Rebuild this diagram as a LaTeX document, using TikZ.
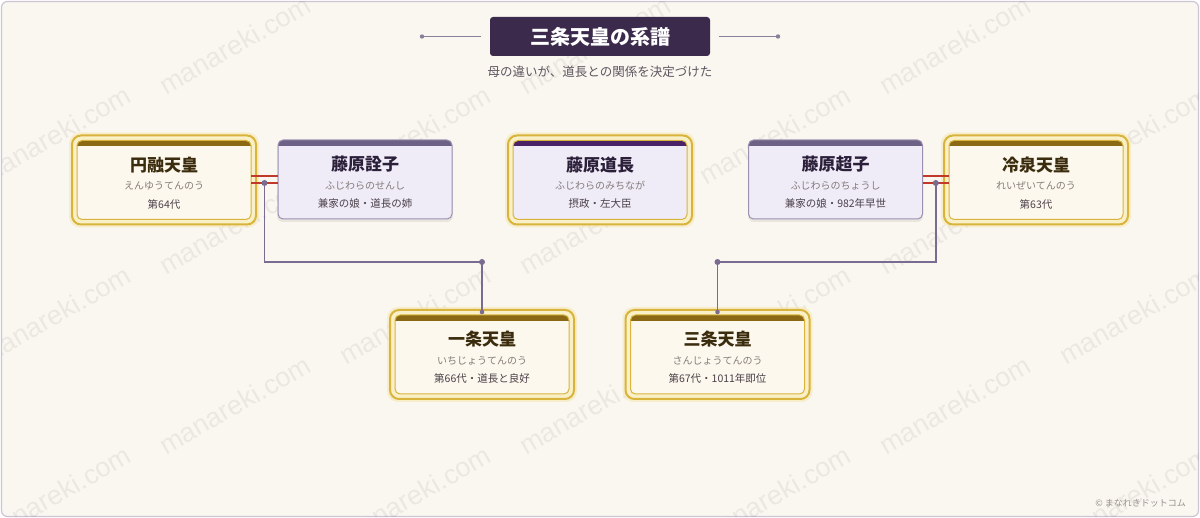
\documentclass[tikz,border=0pt]{standalone}
\usepackage{fontspec}
\setmainfont{Noto Sans CJK JP}
\newfontfamily\wmfont{Liberation Sans}
\usetikzlibrary{calc}
\definecolor{bg}{HTML}{FAF7F0}
\definecolor{frameC}{HTML}{CEC5D4}
\definecolor{titlebg}{HTML}{3C2A4C}
\definecolor{sideline}{HTML}{8A7F99}
\definecolor{subC}{HTML}{5E5560}
\definecolor{connC}{HTML}{7A6C91}
\definecolor{marrC}{HTML}{C0392B}
\definecolor{goldC}{HTML}{D8B43C}
\definecolor{paleGold}{HTML}{FAF0C8}
\definecolor{glowC}{HTML}{F5E3A0}
\definecolor{creamC}{HTML}{FCF8EE}
\definecolor{brownBar}{HTML}{8B6914}
\definecolor{lavC}{HTML}{EFEBF7}
\definecolor{lavBorder}{HTML}{9B90B0}
\definecolor{lavBar}{HTML}{6E6186}
\definecolor{purpBar}{HTML}{4B2266}
\definecolor{empText}{HTML}{3B2C0E}
\definecolor{fujiText}{HTML}{2B1F3A}
\definecolor{readC}{HTML}{857B7B}
\definecolor{descC}{HTML}{4A4048}
\definecolor{footC}{HTML}{9A9090}
\tikzset{
  goldouter/.style={draw=goldC, line width=2pt, fill=paleGold, rounded corners=9pt,
    minimum width=184pt, minimum height=89pt, inner sep=0pt, outer sep=0pt},
  innerb/.style={rounded corners=5pt, minimum width=174pt, minimum height=79pt,
    inner sep=0pt, outer sep=0pt},
  ttl/.style={font=\fontsize{17}{19}\selectfont\bfseries, inner sep=0pt},
  rdg/.style={font=\fontsize{10}{12}\selectfont, text=readC, inner sep=0pt},
  dsc/.style={font=\fontsize{10.5}{12}\selectfont, text=descC, inner sep=0pt},
  conn/.style={draw=connC, line width=1.5pt},
  marr/.style={draw=marrC, line width=1.6pt},
  wm/.style={font=\wmfont\fontsize{27}{30}\selectfont, text=black, opacity=0.06, rotate=30, inner sep=0pt}
}
% gold frame: name x y
\newcommand\goldframe[3]{%
  \fill[glowC, opacity=0.45, rounded corners=11pt] (#2-95,#3-47.5) rectangle (#2+95,#3+47.5);
  \node[goldouter] (#1o) at (#2,#3) {};
}
% inner box: name x y fill bar border
\newcommand\innerbox[6]{%
  \node[innerb, fill=#4] (#1) at (#2,#3) {};
  \begin{scope}
    \clip[rounded corners=5pt] (#1.south west) rectangle (#1.north east);
    \fill[#5] (#1.north west) rectangle ([yshift=-6pt]#1.north east);
  \end{scope}
  \draw[#6, line width=1pt, rounded corners=5pt] (#1.south west) rectangle (#1.north east);
}
% labels: name x y title reading desc titlecolor
\newcommand\labs[7]{%
  \node[ttl, text=#7] (#1t) at (#2,#3-15) {#4};
  \node[rdg] (#1r) at (#2,#3+6) {#5};
  \node[dsc] (#1d) at (#2,#3+24) {#6};
}
\begin{document}
\begin{tikzpicture}[x=1pt,y=-1pt]
\useasboundingbox (0,0) rectangle (1200,518);
\fill[white] (0,0) rectangle (1200,518);
\filldraw[fill=bg, draw=frameC, line width=1.2pt, rounded corners=6pt] (1.5,1.5) rectangle (1198.5,516.5);

% watermarks
\begin{scope}
\clip (2,2) rectangle (1198,516);
\foreach \wx/\wy [count=\i] in {235/45, 595/45, 955/45, 55/135, 415/135, 775/135, 1135/135,
  235/225, 595/225, 955/225, 55/315, 415/315, 775/315, 1135/315,
  235/405, 595/405, 955/405, 55/495, 415/495, 775/495, 1135/495}
  \node[wm] (wm\i) at (\wx,\wy) {manareki.com};
\end{scope}

% title
\node[fill=titlebg, rounded corners=3pt, minimum width=220pt, minimum height=39pt, inner sep=0pt,
  text=white, font=\fontsize{20}{23}\selectfont\bfseries] (title) at (600,36.5) {三条天皇の系譜};
\coordinate (tl) at (422,36.5);
\coordinate (tr) at (778,36.5);
\draw[sideline, line width=1.5pt] (tl) -- ([xshift=-9pt]title.west);
\draw[sideline, line width=1.5pt] ([xshift=9pt]title.east) -- (tr);
\fill[sideline] (tl) circle (2.2pt);
\fill[sideline] (tr) circle (2.2pt);
\node[font=\fontsize{12.5}{14}\selectfont, text=subC, inner sep=0pt] (sub) at (600,72) {母の違いが、道長との関係を決定づけた};

% helper coordinates
\coordinate (y176) at (0,176);
\coordinate (y183) at (0,183);
\coordinate (y262) at (0,262);

% gold frames
\goldframe{enyu}{164}{180}
\goldframe{michi}{600}{180}
\goldframe{reizei}{1036}{180}
\goldframe{ichi}{482}{354.5}
\goldframe{sanjo}{717.5}{354.5}

% plain box shadows
\fill[black, opacity=0.07, rounded corners=6pt] (277,142) rectangle (453,222);
\fill[black, opacity=0.07, rounded corners=6pt] (748,142) rectangle (923,222);

% inner boxes
\innerbox{enyu}{164}{180}{creamC}{brownBar}{goldC}
\innerbox{michi}{600}{180}{lavC}{purpBar}{goldC}
\innerbox{reizei}{1036}{180}{creamC}{brownBar}{goldC}
\innerbox{ichi}{482}{354.5}{creamC}{brownBar}{goldC}
\innerbox{sanjo}{717.5}{354.5}{creamC}{brownBar}{goldC}
\innerbox{senshi}{365}{179.5}{lavC}{lavBar}{lavBorder}
\innerbox{choshi}{835.5}{179.5}{lavC}{lavBar}{lavBorder}

% labels
\labs{enyu}{164}{180}{円融天皇}{えんゆうてんのう}{第64代}{empText}
\labs{senshi}{365}{179.5}{藤原詮子}{ふじわらのせんし}{兼家の娘・道長の姉}{fujiText}
\labs{michi}{600}{180}{藤原道長}{ふじわらのみちなが}{摂政・左大臣}{fujiText}
\labs{choshi}{835.5}{179.5}{藤原超子}{ふじわらのちょうし}{兼家の娘・982年早世}{fujiText}
\labs{reizei}{1036}{180}{冷泉天皇}{れいぜいてんのう}{第63代}{empText}
\labs{ichi}{482}{354.5}{一条天皇}{いちじょうてんのう}{第66代・道長と良好}{empText}
\labs{sanjo}{717.5}{354.5}{三条天皇}{さんじょうてんのう}{第67代・1011年即位}{empText}

% marriage lines
\draw[marr] (enyu.east |- y176) -- (senshi.west |- y176);
\draw[marr] (enyu.east |- y183) -- (senshi.west |- y183);
\draw[marr] (choshi.east |- y176) -- (reizei.west |- y176);
\draw[marr] (choshi.east |- y183) -- (reizei.west |- y183);

% descent lines
\coordinate (m1) at ($(enyu.east |- y183)!0.5!(senshi.west |- y183)$);
\coordinate (m2) at ($(choshi.east |- y183)!0.5!(reizei.west |- y183)$);
\coordinate (j1) at (ichio.north |- y262);
\coordinate (j2) at (sanjoo.north |- y262);
\draw[conn] (m1) |- (j1) -- (ichio.north);
\draw[conn] (m2) |- (j2) -- (sanjoo.north);
\fill[connC] (m1) circle (3pt);
\fill[connC] (m2) circle (3pt);
\fill[connC] (j1) circle (3pt);
\fill[connC] (j2) circle (3pt);
\fill[connC] ([yshift=-2pt]ichio.north) circle (2.3pt);
\fill[connC] ([yshift=-2pt]sanjoo.north) circle (2.3pt);

% footer
\node[anchor=east, font=\fontsize{9}{11}\selectfont, text=footC, inner sep=0pt] (foot) at (1186,503) {© まなれきドットコム};
\end{tikzpicture}
\end{document}
